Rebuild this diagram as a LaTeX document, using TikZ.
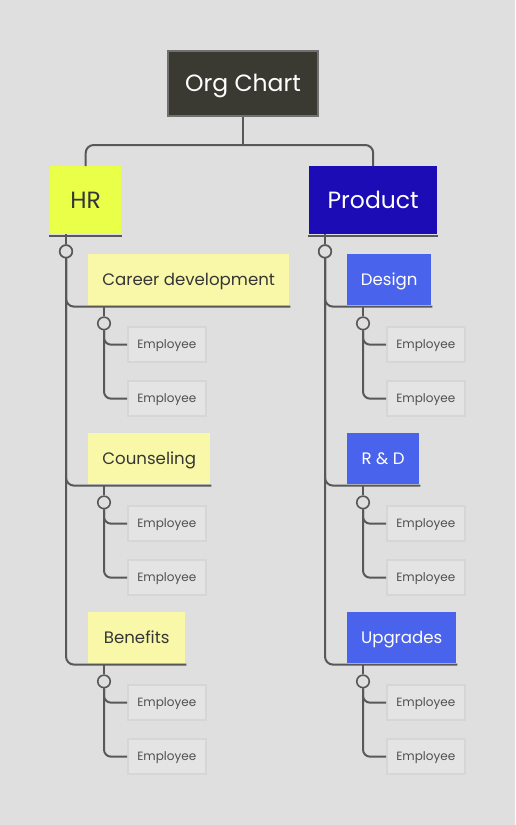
\documentclass[tikz,border=0pt]{standalone}
\usepackage{fontspec}
\setmainfont{Poppins}
\usetikzlibrary{calc}
\definecolor{bgc}{HTML}{DFDFDF}
\definecolor{linec}{HTML}{585858}
\definecolor{rootc}{HTML}{3A3A33}
\definecolor{rootb}{HTML}{707070}
\definecolor{hrc}{HTML}{EAFF48}
\definecolor{prodc}{HTML}{1C0CB6}
\definecolor{subyc}{HTML}{F8F8A8}
\definecolor{subbc}{HTML}{4A63EC}
\definecolor{empc}{HTML}{E4E4E4}
\definecolor{empb}{HTML}{D6D6D6}
\definecolor{darktxt}{HTML}{363636}
\definecolor{emptxt}{HTML}{505050}
\tikzset{
  rootbox/.style={fill=rootc, draw=rootb, line width=1.5pt, text=white, minimum width=150pt, minimum height=65pt, inner sep=0pt, text height=16.4pt, text depth=0pt, font=\fontsize{23.5}{27}\selectfont},
  topbox/.style={minimum height=68pt, inner sep=0pt, text height=16.4pt, text depth=0pt, font=\fontsize{23.5}{27}\selectfont},
  subbox/.style={minimum height=51pt, inner sep=0pt, text height=11.6pt, text depth=0pt, font=\fontsize{16.6}{20}\selectfont},
  emp/.style={fill=empc, draw=empb, line width=1.5pt, text=emptxt, minimum width=78pt, minimum height=35pt, inner sep=0pt, text height=8.4pt, text depth=0pt, font=\fontsize{12}{14}\selectfont},
  conn/.style={draw=linec, line width=2pt},
  knob/.style={circle, draw=linec, fill=bgc, line width=1.6pt, minimum size=12.5pt, inner sep=0pt},
}
\newcommand{\mysub}[7]{%
  \node[subbox, #6, minimum width=#4pt, anchor=north west] (#1) at (#2,#3) {#5};
  \coordinate (#1ul) at ($(#1.south east)+(1,1.2)$);
  \draw[conn, rounded corners=8pt] (#7.south) |- (#1ul);
  \node[knob] (#1c) at ($(#1.south west)+(16,18)$) {};
  \draw[conn] (#1c.north |- #1ul) -- (#1c.north);
  \node[emp, anchor=north west] (#1ea) at ($(#1.south west)+(39,21)$) {Employee};
  \node[emp, anchor=north west] (#1eb) at ($(#1.south west)+(39,75)$) {Employee};
  \draw[conn, rounded corners=7pt] (#1c.south) |- (#1ea.west);
  \draw[conn, rounded corners=7pt] (#1c.south) |- (#1eb.west);
}
\begin{document}
\begin{tikzpicture}[x=1pt,y=-1pt]
\fill[bgc] (0,0) rectangle (515,825);
\useasboundingbox (0,0) rectangle (515,825);
% root
\node[rootbox] (root) at (243,83.5) {Org Chart};
\coordinate (bus) at (243,145);
\node[topbox, fill=hrc, text=darktxt, minimum width=71pt, anchor=north west] (hr) at (50,166) {HR};
\node[topbox, fill=prodc, text=white, minimum width=128pt, anchor=north west] (prod) at (309,166) {Product};
\draw[conn] (root.south) -- (bus);
\draw[conn, rounded corners=8pt] (hr.north) -- (hr.north |- bus) -- (prod.north |- bus) -- (prod.north);
% underlines
\draw[conn] ($(hr.south west)+(-1,1.2)$) -- ($(hr.south east)+(1,1.2)$);
\draw[conn] ($(prod.south west)+(-1,1.2)$) -- ($(prod.south east)+(1,1.2)$);
% knobs
\node[knob] (hrk) at ($(hr.south west)+(16,17)$) {};
\node[knob] (prodk) at ($(prod.south west)+(16,17)$) {};
\draw[conn] (hrk.north |- hr.south) -- (hrk.north);
\draw[conn] (prodk.north |- prod.south) -- (prodk.north);
% left groups
\mysub{career}{88}{254}{201}{Career development}{fill=subyc, text=darktxt}{hrk}
\mysub{couns}{88}{433}{122}{Counseling}{fill=subyc, text=darktxt}{hrk}
\mysub{bene}{88}{612}{97}{Benefits}{fill=subyc, text=darktxt}{hrk}
% right groups
\mysub{design}{347}{254}{84}{Design}{fill=subbc, text=white}{prodk}
\mysub{rnd}{347}{433}{72}{R \& D}{fill=subbc, text=white}{prodk}
\mysub{upg}{347}{612}{109}{Upgrades}{fill=subbc, text=white}{prodk}
% redraw knobs on top
\node[knob] at (hrk) {};
\node[knob] at (prodk) {};
\end{tikzpicture}
\end{document}
